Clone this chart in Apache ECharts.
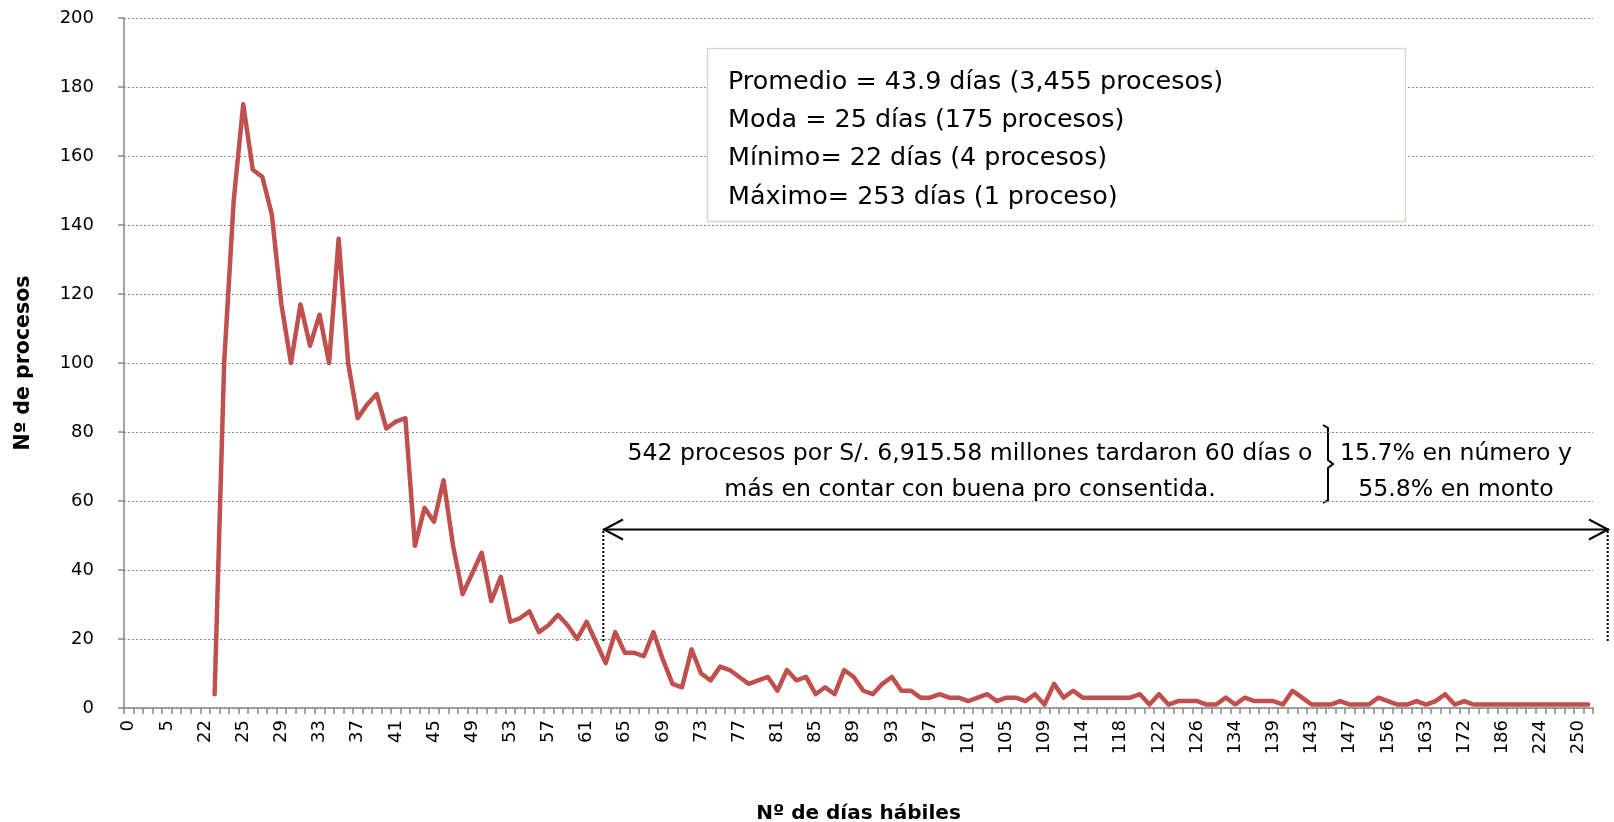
<!DOCTYPE html>
<html>
<head>
<meta charset="utf-8">
<script src="https://cdn.jsdelivr.net/npm/echarts@6/dist/echarts.min.js"></script>
<style>
  html, body { margin: 0; padding: 0; background: #ffffff; }
  #chart { width: 1614px; height: 822px; }
</style>
</head>
<body>
<div id="chart"></div>
<script>
// Tick labels shown on every fourth column of the day axis
const etiquetasEje = ['0','5','22','25','29','33','37','41','45','49','53','57','61','65','69','73','77','81','85','89',
  '93','97','101','105','109','114','118','122','126','134','139','143','147','156','163','172','186','224','250'];

// Empty columns on the day axis before the first count
const columnasVacias = 9;

// Number of processes per column of working days (first one: 22 days)
const procesos = [
  4, 100, 147, 175, 156, 154, 143, 117, 100, 117, 105, 114, 100, 136, 100,
  84, 88, 91, 81, 83, 84,
  47, 58, 54, 66, 47, 33, 39, 45, 31, 38,
  25, 26, 28, 22, 24, 27, 24, 20, 25, 19,
  13, 22, 16, 16, 15, 22, 14, 7, 6, 17,
  10, 8, 12, 11, 9, 7, 8, 9, 5, 11,
  8, 9, 4, 6, 4, 11, 9, 5, 4, 7,
  9, 5, 5, 3, 3, 4, 3, 3, 2, 3,
  4, 2, 3, 3, 2, 4, 1, 7, 3, 5,
  3, 3, 3, 3, 3, 3, 4, 1, 4, 1,
  2, 2, 2, 1, 1, 3, 1, 3, 2, 2,
  2, 1, 5, 3, 1, 1, 1, 2, 1, 1,
  1, 3, 2, 1, 1, 2, 1, 2, 4, 1,
  2, 1, 1, 1, 1, 1, 1, 1, 1, 1, 1, 1, 1, 1
];

const resumen = [
  'Promedio = 43.9 días (3,455 procesos)',
  'Moda = 25 días (175 procesos)',
  'Mínimo= 22 días (4 procesos)',
  'Máximo= 253 días (1 proceso)'
];
const notaTramo = ['542 procesos por S/. 6,915.58 millones tardaron 60 días o', 'más en contar con buena pro consentida.'];
const notaPorcentaje = ['15.7% en número y', '55.8% en monto'];

const FONT = '"DejaVu Sans", Verdana, sans-serif';
const totalColumnas = columnasVacias + procesos.length;
const columnas = Array.from({ length: totalColumnas }, (_, i) => String(i));
const serie = new Array(columnasVacias).fill(null).concat(procesos);

const chart = echarts.init(document.getElementById('chart'), null, { renderer: 'canvas' });

const textoCaja = resumen.map((t, i) => ({
  type: 'text', x: 728, y: 82 + i * 38.4, z: 11,
  style: { text: t, font: '25.4px ' + FONT, fill: '#000', verticalAlign: 'middle' }
}));
const textoNota = notaTramo.map((t, i) => ({
  type: 'text', x: 970, y: 453.5 + i * 36,
  style: { text: t, font: '23.6px ' + FONT, fill: '#000', align: 'center', verticalAlign: 'middle' }
}));
const textoPorc = notaPorcentaje.map((t, i) => ({
  type: 'text', x: 1456, y: 453.5 + i * 36,
  style: { text: t, font: '23.6px ' + FONT, fill: '#000', align: 'center', verticalAlign: 'middle' }
}));

chart.setOption({
  animation: false,
  backgroundColor: '#ffffff',
  grid: { left: 124, right: 21, top: 18, bottom: 114, containLabel: false, outerBoundsMode: 'none' },
  xAxis: {
    type: 'category',
    data: columnas,
    boundaryGap: true,
    name: 'Nº de días hábiles',
    nameLocation: 'middle',
    nameGap: 96,
    nameTextStyle: { fontFamily: FONT, fontSize: 20, fontWeight: 'bold', color: '#000' },
    axisLine: { lineStyle: { color: '#868686', width: 1.5 } },
    axisTick: { show: true, interval: 0, length: 6, lineStyle: { color: '#868686', width: 1.5 } },
    axisLabel: {
      interval: 3, rotate: 90, margin: 12, fontFamily: FONT, fontSize: 18, color: '#000',
      formatter: (v, i) => etiquetasEje[i / 4] ?? ''
    },
    splitLine: { show: false }
  },
  yAxis: {
    type: 'value',
    min: 0, max: 200, interval: 20,
    name: 'Nº de procesos',
    nameLocation: 'middle',
    nameGap: 90,
    nameRotate: 90,
    nameTextStyle: { fontFamily: FONT, fontSize: 20.5, fontWeight: 'bold', color: '#000' },
    axisLine: { show: true, lineStyle: { color: '#868686', width: 1.5 } },
    axisTick: { show: true, length: 6, lineStyle: { color: '#868686', width: 1.5 } },
    axisLabel: { margin: 30, fontFamily: FONT, fontSize: 18, color: '#000' },
    splitLine: { show: true, lineStyle: { color: '#8c8c8c', width: 1, type: [2, 2] } }
  },
  series: [{
    type: 'line',
    data: serie,
    symbol: 'none',
    connectNulls: false,
    lineStyle: { color: '#c0504d', width: 4.5, join: 'round', cap: 'round' },
    z: 3
  }],
  graphic: [
    { type: 'rect', shape: { x: 707.5, y: 48.5, width: 698, height: 173 },
      style: { fill: '#ffffff', stroke: '#d8d8c6', lineWidth: 1.5 }, z: 10 },
    ...textoCaja,
    ...textoNota,
    ...textoPorc,
    // brace grouping the two percentages
    { type: 'polyline', shape: { points: [[1323, 425], [1328, 428], [1328, 460], [1333, 464], [1328, 468], [1328, 500], [1323, 503]] },
      style: { stroke: '#000', lineWidth: 2, fill: null } },
    // double arrow over the long tail
    { type: 'line', shape: { x1: 603, y1: 529.5, x2: 1609, y2: 529.5 }, style: { stroke: '#000', lineWidth: 2 } },
    { type: 'polyline', shape: { points: [[623, 519.5], [604, 529.5], [623, 539.5]] }, style: { stroke: '#000', lineWidth: 2, fill: null } },
    { type: 'polyline', shape: { points: [[1589, 519.5], [1608, 529.5], [1589, 539.5]] }, style: { stroke: '#000', lineWidth: 2, fill: null } },
    { type: 'line', shape: { x1: 603.3, y1: 531, x2: 603.3, y2: 641 }, style: { stroke: '#000', lineWidth: 2, lineDash: [2, 2] } },
    { type: 'line', shape: { x1: 1607.7, y1: 531, x2: 1607.7, y2: 642 }, style: { stroke: '#000', lineWidth: 2, lineDash: [2, 2] } }
  ]
});
</script>
</body>
</html>
